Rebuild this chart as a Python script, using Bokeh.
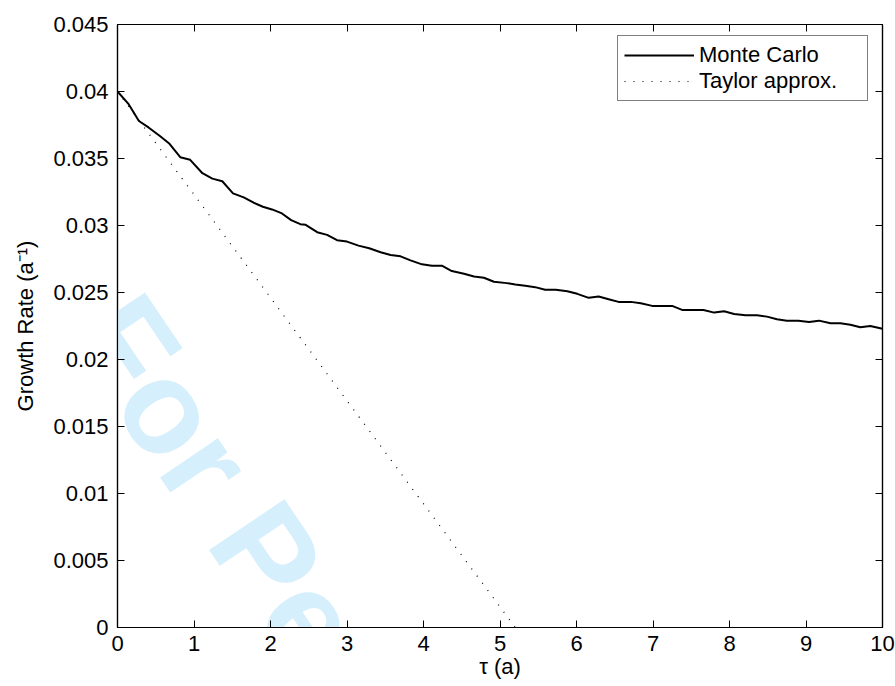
from bokeh.plotting import figure
from bokeh.models import (Range1d, FixedTicker, LinearAxis, Legend, LegendItem, Label)
from bokeh.embed import file_html
from bokeh.resources import INLINE

# ---- data ----
mc_tau = [0, 0.14, 0.28, 0.41, 0.55, 0.68, 0.82, 0.95,
          1.11, 1.24, 1.37, 1.51, 1.65, 1.78, 1.9,
          2.02, 2.15, 2.27, 2.39, 2.46, 2.61, 2.74, 2.87,
          3.0, 3.15, 3.29, 3.44, 3.57, 3.70, 3.83, 3.98,
          4.11, 4.24, 4.37, 4.53, 4.66, 4.79, 4.92,
          5.09, 5.2, 5.33, 5.46, 5.59, 5.73, 5.88,
          6.01, 6.16, 6.29, 6.42, 6.55, 6.71, 6.84, 6.99,
          7.12, 7.25, 7.38, 7.53, 7.66, 7.8, 7.93,
          8.06, 8.21, 8.36, 8.49, 8.62, 8.75, 8.9,
          9.04, 9.17, 9.32, 9.45, 9.58, 9.71, 9.84, 10.0]
mc_rate = [0.0400, 0.0391, 0.0378, 0.0373, 0.0367, 0.0361, 0.0351, 0.0349,
           0.0339, 0.0335, 0.0333, 0.0324, 0.0321, 0.0317, 0.0314,
           0.0312, 0.0309, 0.0304, 0.0301, 0.03005, 0.0295, 0.0293, 0.0289,
           0.0288, 0.0285, 0.0283, 0.0280, 0.0278, 0.0277, 0.0274, 0.0271,
           0.0270, 0.0270, 0.0266, 0.0264, 0.0262, 0.0261, 0.0258,
           0.0257, 0.0256, 0.0255, 0.0254, 0.0252, 0.0252, 0.0251,
           0.0249, 0.0246, 0.0247, 0.0245, 0.0243, 0.0243, 0.0242, 0.0240,
           0.0240, 0.0240, 0.0237, 0.0237, 0.0237, 0.0235, 0.0236,
           0.0234, 0.0233, 0.0233, 0.0232, 0.0230, 0.0229, 0.0229,
           0.0228, 0.0229, 0.0227, 0.0227, 0.0226, 0.0224, 0.0225, 0.0223]

taylor_tau = [0.0, 5.2]
taylor_rate = [0.0400, 0.0]

x_ticks = [0, 1, 2, 3, 4, 5, 6, 7, 8, 9, 10]
y_ticks = [0, 0.005, 0.01, 0.015, 0.02, 0.025, 0.03, 0.035, 0.04, 0.045]
y_tick_labels = ["0", "0.005", "0.01", "0.015", "0.02", "0.025", "0.03", "0.035", "0.04", "0.045"]

series_names = ["Monte Carlo", "Taylor approx."]
x_label = "τ (a)"
y_label = "Growth Rate (a⁻¹)"
watermark = "For Peer Review"

FONT = "Liberation Sans"
FS = "22px"

p = figure(width=895, height=686, output_backend="svg", toolbar_location=None,
           x_range=Range1d(0, 10), y_range=Range1d(0, 0.045),
           min_border_left=117, min_border_right=13, min_border_top=24, min_border_bottom=59,
           background_fill_color="white", border_fill_color="white")
p.xgrid.visible = False
p.ygrid.visible = False
p.outline_line_color = "black"
p.outline_line_width = 1.2

# watermark, beneath the marks
wm = Label(x=-0.195, y=0.02365, text=watermark, angle=-0.977, angle_units="rad",
           text_font=FONT, text_font_style="bold", text_font_size="132px",
           text_color="#d6effc", text_align="left", text_baseline="alphabetic",
           level="image")
p.add_layout(wm)

r_mc = p.line(mc_tau, mc_rate, line_color="black", line_width=2)
r_ty = p.line(taylor_tau, taylor_rate, line_color="black", line_width=1.2, line_dash="1 8")

def style_axis(ax, ticks, show_labels=True):
    ax.ticker = FixedTicker(ticks=ticks)
    ax.major_tick_in = 7
    ax.major_tick_out = 0
    ax.minor_tick_line_color = None
    ax.axis_line_color = "black"
    ax.axis_line_width = 1.2
    ax.major_tick_line_color = "black"
    ax.major_tick_line_width = 1
    ax.major_label_text_font = FONT
    if show_labels:
        ax.major_label_text_font_size = FS
        ax.major_label_text_color = "black"
    else:
        ax.major_label_text_font_size = "1px"
        ax.major_label_text_color = None
        ax.major_label_standoff = 0
    ax.axis_label_text_font = FONT
    ax.axis_label_text_font_size = FS
    ax.axis_label_text_font_style = "normal"
    ax.axis_label_text_color = "black"

xa = p.xaxis[0]
style_axis(xa, x_ticks)
xa.axis_label = x_label
xa.major_label_standoff = 8
xa.axis_label_standoff = 0

ya = p.yaxis[0]
style_axis(ya, y_ticks)
ya.major_label_overrides = {t: s for t, s in zip(y_ticks, y_tick_labels)}
ya.axis_label = y_label
ya.major_label_standoff = 9
ya.axis_label_standoff = 12

top = LinearAxis()
style_axis(top, x_ticks, show_labels=False)
p.add_layout(top, "above")
right = LinearAxis()
style_axis(right, y_ticks, show_labels=False)
p.add_layout(right, "right")

legend = Legend(items=[LegendItem(label=series_names[0], renderers=[r_mc]),
                       LegendItem(label=series_names[1], renderers=[r_ty])],
                location=(500, 526))
legend.margin = 0
legend.padding = 6
legend.spacing = 0
legend.glyph_width = 70
legend.glyph_height = 26
legend.label_height = 26
legend.label_width = 162
legend.label_standoff = 5
legend.label_text_font = FONT
legend.label_text_font_size = FS
legend.label_text_color = "black"
legend.border_line_color = "black"
legend.border_line_width = 1
legend.background_fill_color = "white"
legend.background_fill_alpha = 1
p.add_layout(legend, "center")

open("out.html", "w").write(file_html(p, INLINE))
